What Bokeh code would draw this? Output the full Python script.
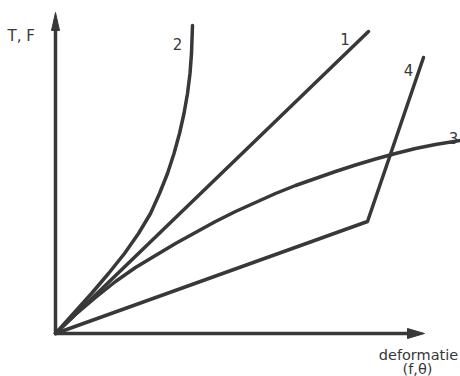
from bokeh.plotting import figure
from bokeh.models import Range1d
from bokeh.core.properties import value
from bokeh.embed import file_html
from bokeh.resources import INLINE

# ---- data (deformation vs. force, arbitrary units) ----
line1_x = [0, 31.3]
line1_y = [0, 30.2]

curve2_x = [0, 1.8, 3.6, 5.3, 6.9, 8.3, 9.5, 10.4, 11.2, 11.85, 12.4, 12.85, 13.2, 13.45, 13.6, 13.7]
curve2_y = [0, 2.0, 4.0, 6.0, 8.0, 10.0, 12.0, 14.0, 16.0, 18.0, 20.0, 22.0, 24.0, 26.0, 28.0, 30.8]

curve3_x = [0, 2, 4, 6, 8, 10, 12, 14, 16, 18, 20, 22, 24, 26, 28, 30, 32, 34, 36, 38, 40.5]
curve3_y = [0, 1.9, 3.6, 5.2, 6.6, 7.8, 9.0, 10.1, 11.2, 12.2, 13.1, 14.0, 14.8, 15.5,
            16.2, 16.85, 17.45, 18.0, 18.5, 18.9, 19.3]

line4_x = [0, 31.2, 36.8]
line4_y = [0, 11.2, 27.6]

curve_labels = ["1", "2", "3", "4"]
label_x = [28.95, 12.2, 39.8, 35.3]
label_y = [29.5, 29.0, 19.6, 26.4]

x_axis_end = 36.9
y_axis_end = 32.1
x_title = ["deformatie", "(f,\u03b8)"]
y_title = "T, F"

INK = "#383838"
LW = 3.5

p = figure(width=460, height=376, output_backend="svg", toolbar_location=None,
           x_range=Range1d(-5.5, 40.5), y_range=Range1d(-4.3, 33.3),
           min_border=0, min_border_left=0, min_border_right=0,
           min_border_top=0, min_border_bottom=0)
p.axis.visible = False
p.grid.visible = False
p.outline_line_color = None
p.background_fill_color = "white"
p.border_fill_color = "white"

# axes with arrows
ah_len_y, ah_half_y = 1.8, 0.4
ah_len_x, ah_half_x = 1.7, 0.5
p.line([0, 0], [0, y_axis_end - ah_len_y + 0.2], line_color=INK, line_width=LW)
p.line([0, x_axis_end - ah_len_x + 0.2], [0, 0], line_color=INK, line_width=LW)
p.patch([-ah_half_y, 0, ah_half_y], [y_axis_end - ah_len_y, y_axis_end, y_axis_end - ah_len_y],
        fill_color=INK, line_color=INK, line_width=1)
p.patch([x_axis_end - ah_len_x, x_axis_end, x_axis_end - ah_len_x], [-ah_half_x, 0, ah_half_x],
        fill_color=INK, line_color=INK, line_width=1)

# curves
for xs, ys in [(line1_x, line1_y), (curve2_x, curve2_y), (curve3_x, curve3_y), (line4_x, line4_y)]:
    p.line(xs, ys, line_color=INK, line_width=LW, line_join="round", line_cap="round")

# curve numbers
p.text(x=label_x, y=label_y, text=curve_labels, text_align="center", text_baseline="alphabetic",
       text_font=value("DejaVu Sans"), text_font_size="15px", text_color=INK)

# axis titles
p.text(x=[-4.8], y=[29.8], text=[y_title], text_align="left", text_baseline="alphabetic",
       text_font=value("DejaVu Sans"), text_font_size="15px", text_color=INK)
p.text(x=[36.3, 36.2], y=[-2.1, -3.5], text=x_title, text_align="center", text_baseline="alphabetic",
       text_font=value("DejaVu Sans"), text_font_size="14.5px", text_color=INK)

open("out.html", "w").write(file_html(p, INLINE))
